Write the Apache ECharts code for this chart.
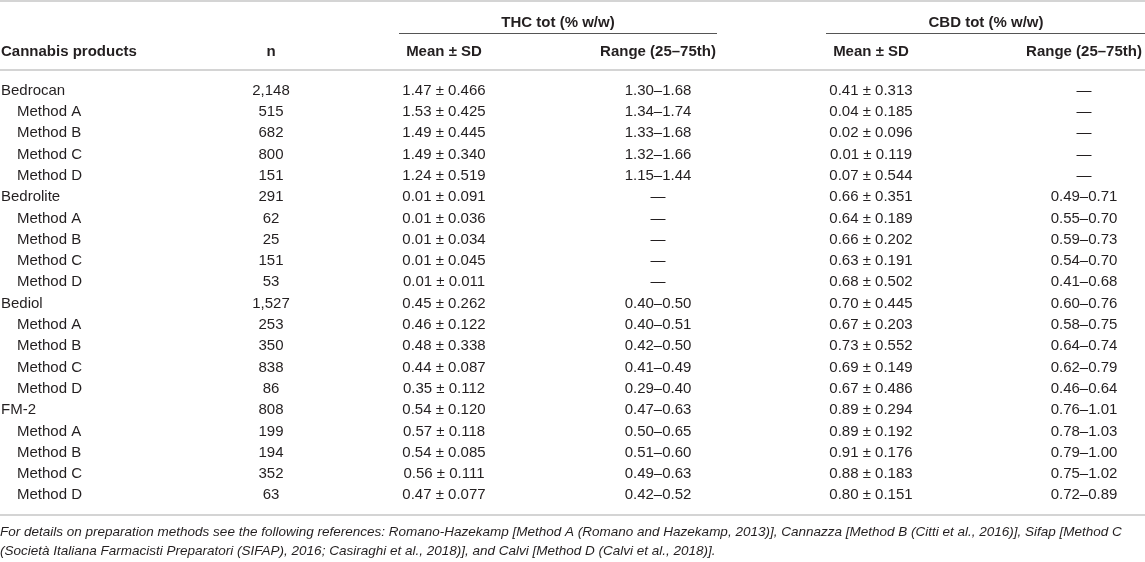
<!DOCTYPE html>
<html lang="en">
  <head>
    <meta charset="UTF-8" />
    <title>THC and CBD content of cannabis products</title>
    <script src="https://cdn.jsdelivr.net/npm/echarts@6/dist/echarts.min.js"></script>
    <style>
      html, body { margin: 0; padding: 0; background: #fff; }
      #main { width: 1145px; height: 562px; }
    </style>
  </head>
  <body>
    <div id="main"></div>

    <script>
      const products = [
        'Bedrocan', 'Method A', 'Method B', 'Method C', 'Method D',
        'Bedrolite', 'Method A', 'Method B', 'Method C', 'Method D',
        'Bediol', 'Method A', 'Method B', 'Method C', 'Method D',
        'FM-2', 'Method A', 'Method B', 'Method C', 'Method D',
      ];
      const nValues = [
        2148, 515, 682, 800, 151,
        291, 62, 25, 151, 53,
        1527, 253, 350, 838, 86,
        808, 199, 194, 352, 63,
      ];
      const thcMean = [
        1.47, 1.53, 1.49, 1.49, 1.24,
        0.01, 0.01, 0.01, 0.01, 0.01,
        0.45, 0.46, 0.48, 0.44, 0.35,
        0.54, 0.57, 0.54, 0.56, 0.47,
      ];
      const thcSd = [
        0.466, 0.425, 0.445, 0.340, 0.519,
        0.091, 0.036, 0.034, 0.045, 0.011,
        0.262, 0.122, 0.338, 0.087, 0.112,
        0.120, 0.118, 0.085, 0.111, 0.077,
      ];
      const thcLow = [
        1.30, 1.34, 1.33, 1.32, 1.15,
        null, null, null, null, null,
        0.40, 0.40, 0.42, 0.41, 0.29,
        0.47, 0.50, 0.51, 0.49, 0.42,
      ];
      const thcHigh = [
        1.68, 1.74, 1.68, 1.66, 1.44,
        null, null, null, null, null,
        0.50, 0.51, 0.50, 0.49, 0.40,
        0.63, 0.65, 0.60, 0.63, 0.52,
      ];
      const cbdMean = [
        0.41, 0.04, 0.02, 0.01, 0.07,
        0.66, 0.64, 0.66, 0.63, 0.68,
        0.70, 0.67, 0.73, 0.69, 0.67,
        0.89, 0.89, 0.91, 0.88, 0.80,
      ];
      const cbdSd = [
        0.313, 0.185, 0.096, 0.119, 0.544,
        0.351, 0.189, 0.202, 0.191, 0.502,
        0.445, 0.203, 0.552, 0.149, 0.486,
        0.294, 0.192, 0.176, 0.183, 0.151,
      ];
      const cbdLow = [
        null, null, null, null, null,
        0.49, 0.55, 0.59, 0.54, 0.41,
        0.60, 0.58, 0.64, 0.62, 0.46,
        0.76, 0.78, 0.79, 0.75, 0.72,
      ];
      const cbdHigh = [
        null, null, null, null, null,
        0.71, 0.70, 0.73, 0.70, 0.68,
        0.76, 0.75, 0.74, 0.79, 0.64,
        1.01, 1.03, 1.00, 1.02, 0.89,
      ];
      const groupHeaders = ['THC tot (% w/w)', 'CBD tot (% w/w)'];
      const columnHeaders = ['Cannabis products', 'n', 'Mean ± SD', 'Range (25–75th)', 'Mean ± SD', 'Range (25–75th)'];
      const footnote = [
        'For details on preparation methods see the following references: Romano-Hazekamp [Method A (Romano and Hazekamp, 2013)], Cannazza [Method B (Citti et al., 2016)], Sifap [Method C',
        '(Società Italiana Farmacisti Preparatori (SIFAP), 2016; Casiraghi et al., 2018)], and Calvi [Method D (Calvi et al., 2018)].',
      ];

      // column anchors in pixels (x axis runs 0..1145 over the full width)
      const colX = [1, 271, 444, 658, 871, 1084];
      const FONT = '"Liberation Sans", Arial, Helvetica, sans-serif';
      const TEXT = '#231f20';

      const fmtMean = (m, s) => m.toFixed(2) + ' ± ' + s.toFixed(3);
      const fmtRange = (lo, hi) => (lo == null ? '—' : lo.toFixed(2) + '–' + hi.toFixed(2));

      const rows = products.map((p, i) => [
        p,
        nValues[i].toLocaleString('en-US'),
        fmtMean(thcMean[i], thcSd[i]),
        fmtRange(thcLow[i], thcHigh[i]),
        fmtMean(cbdMean[i], cbdSd[i]),
        fmtRange(cbdLow[i], cbdHigh[i]),
      ]);

      function renderRow(params, api) {
        const idx = api.value(0);
        const cells = rows[idx];
        const children = cells.map((txt, c) => {
          let x = colX[c];
          if (c === 0 && txt.startsWith('Method')) x = 17;
          const pt = api.coord([x, idx]);
          return {
            type: 'text',
            x: pt[0],
            y: pt[1],
            style: {
              text: txt,
              fill: TEXT,
              font: '15px ' + FONT,
              align: c === 0 ? 'left' : 'center',
              verticalAlign: 'middle',
            },
          };
        });
        return { type: 'group', children: children };
      }

      const hline = (x1, x2, y, color, w) => ({
        type: 'line',
        shape: { x1: x1, y1: y, x2: x2, y2: y },
        style: { stroke: color, lineWidth: w },
        silent: true,
      });
      const headText = (txt, x, y, align) => ({
        type: 'text',
        x: x,
        y: y,
        style: {
          text: txt,
          fill: TEXT,
          font: 'bold 15px ' + FONT,
          align: align,
          verticalAlign: 'middle',
        },
      });

      const graphics = [
        hline(0, 1145, 1, '#d4d4d4', 2),
        hline(399, 717, 33.5, '#555', 1),
        hline(826, 1145, 33.5, '#555', 1),
        hline(0, 1145, 70, '#d4d4d4', 2),
        hline(0, 1145, 515, '#d4d4d4', 2),
        headText(groupHeaders[0], 558, 23, 'center'),
        headText(groupHeaders[1], 986, 23, 'center'),
      ];
      columnHeaders.forEach((h, c) => {
        graphics.push(headText(h, colX[c], 52, c === 0 ? 'left' : 'center'));
      });
      footnote.forEach((line, k) => {
        graphics.push({
          type: 'text',
          x: 0,
          y: 532 + k * 19,
          style: {
            text: line,
            fill: TEXT,
            font: 'italic 13.5px ' + FONT,
            align: 'left',
            verticalAlign: 'middle',
          },
        });
      });

      const options = {
        animation: false,
        grid: { left: 0, right: 0, top: 80, height: 426 },
        xAxis: { type: 'value', min: 0, max: 1145, show: false },
        yAxis: {
          type: 'category',
          inverse: true,
          data: products.map((p, i) => i),
          show: false,
        },
        graphic: graphics,
        series: [
          {
            type: 'custom',
            renderItem: renderRow,
            data: rows.map((r, i) => [i]),
            encode: { y: 0 },
            silent: true,
          },
        ],
      };

      const myChart = echarts.init(document.getElementById('main'));
      myChart.setOption(options);

      window.onresize = function () {
        myChart.resize();
      };
    </script>
  </body>
</html>
